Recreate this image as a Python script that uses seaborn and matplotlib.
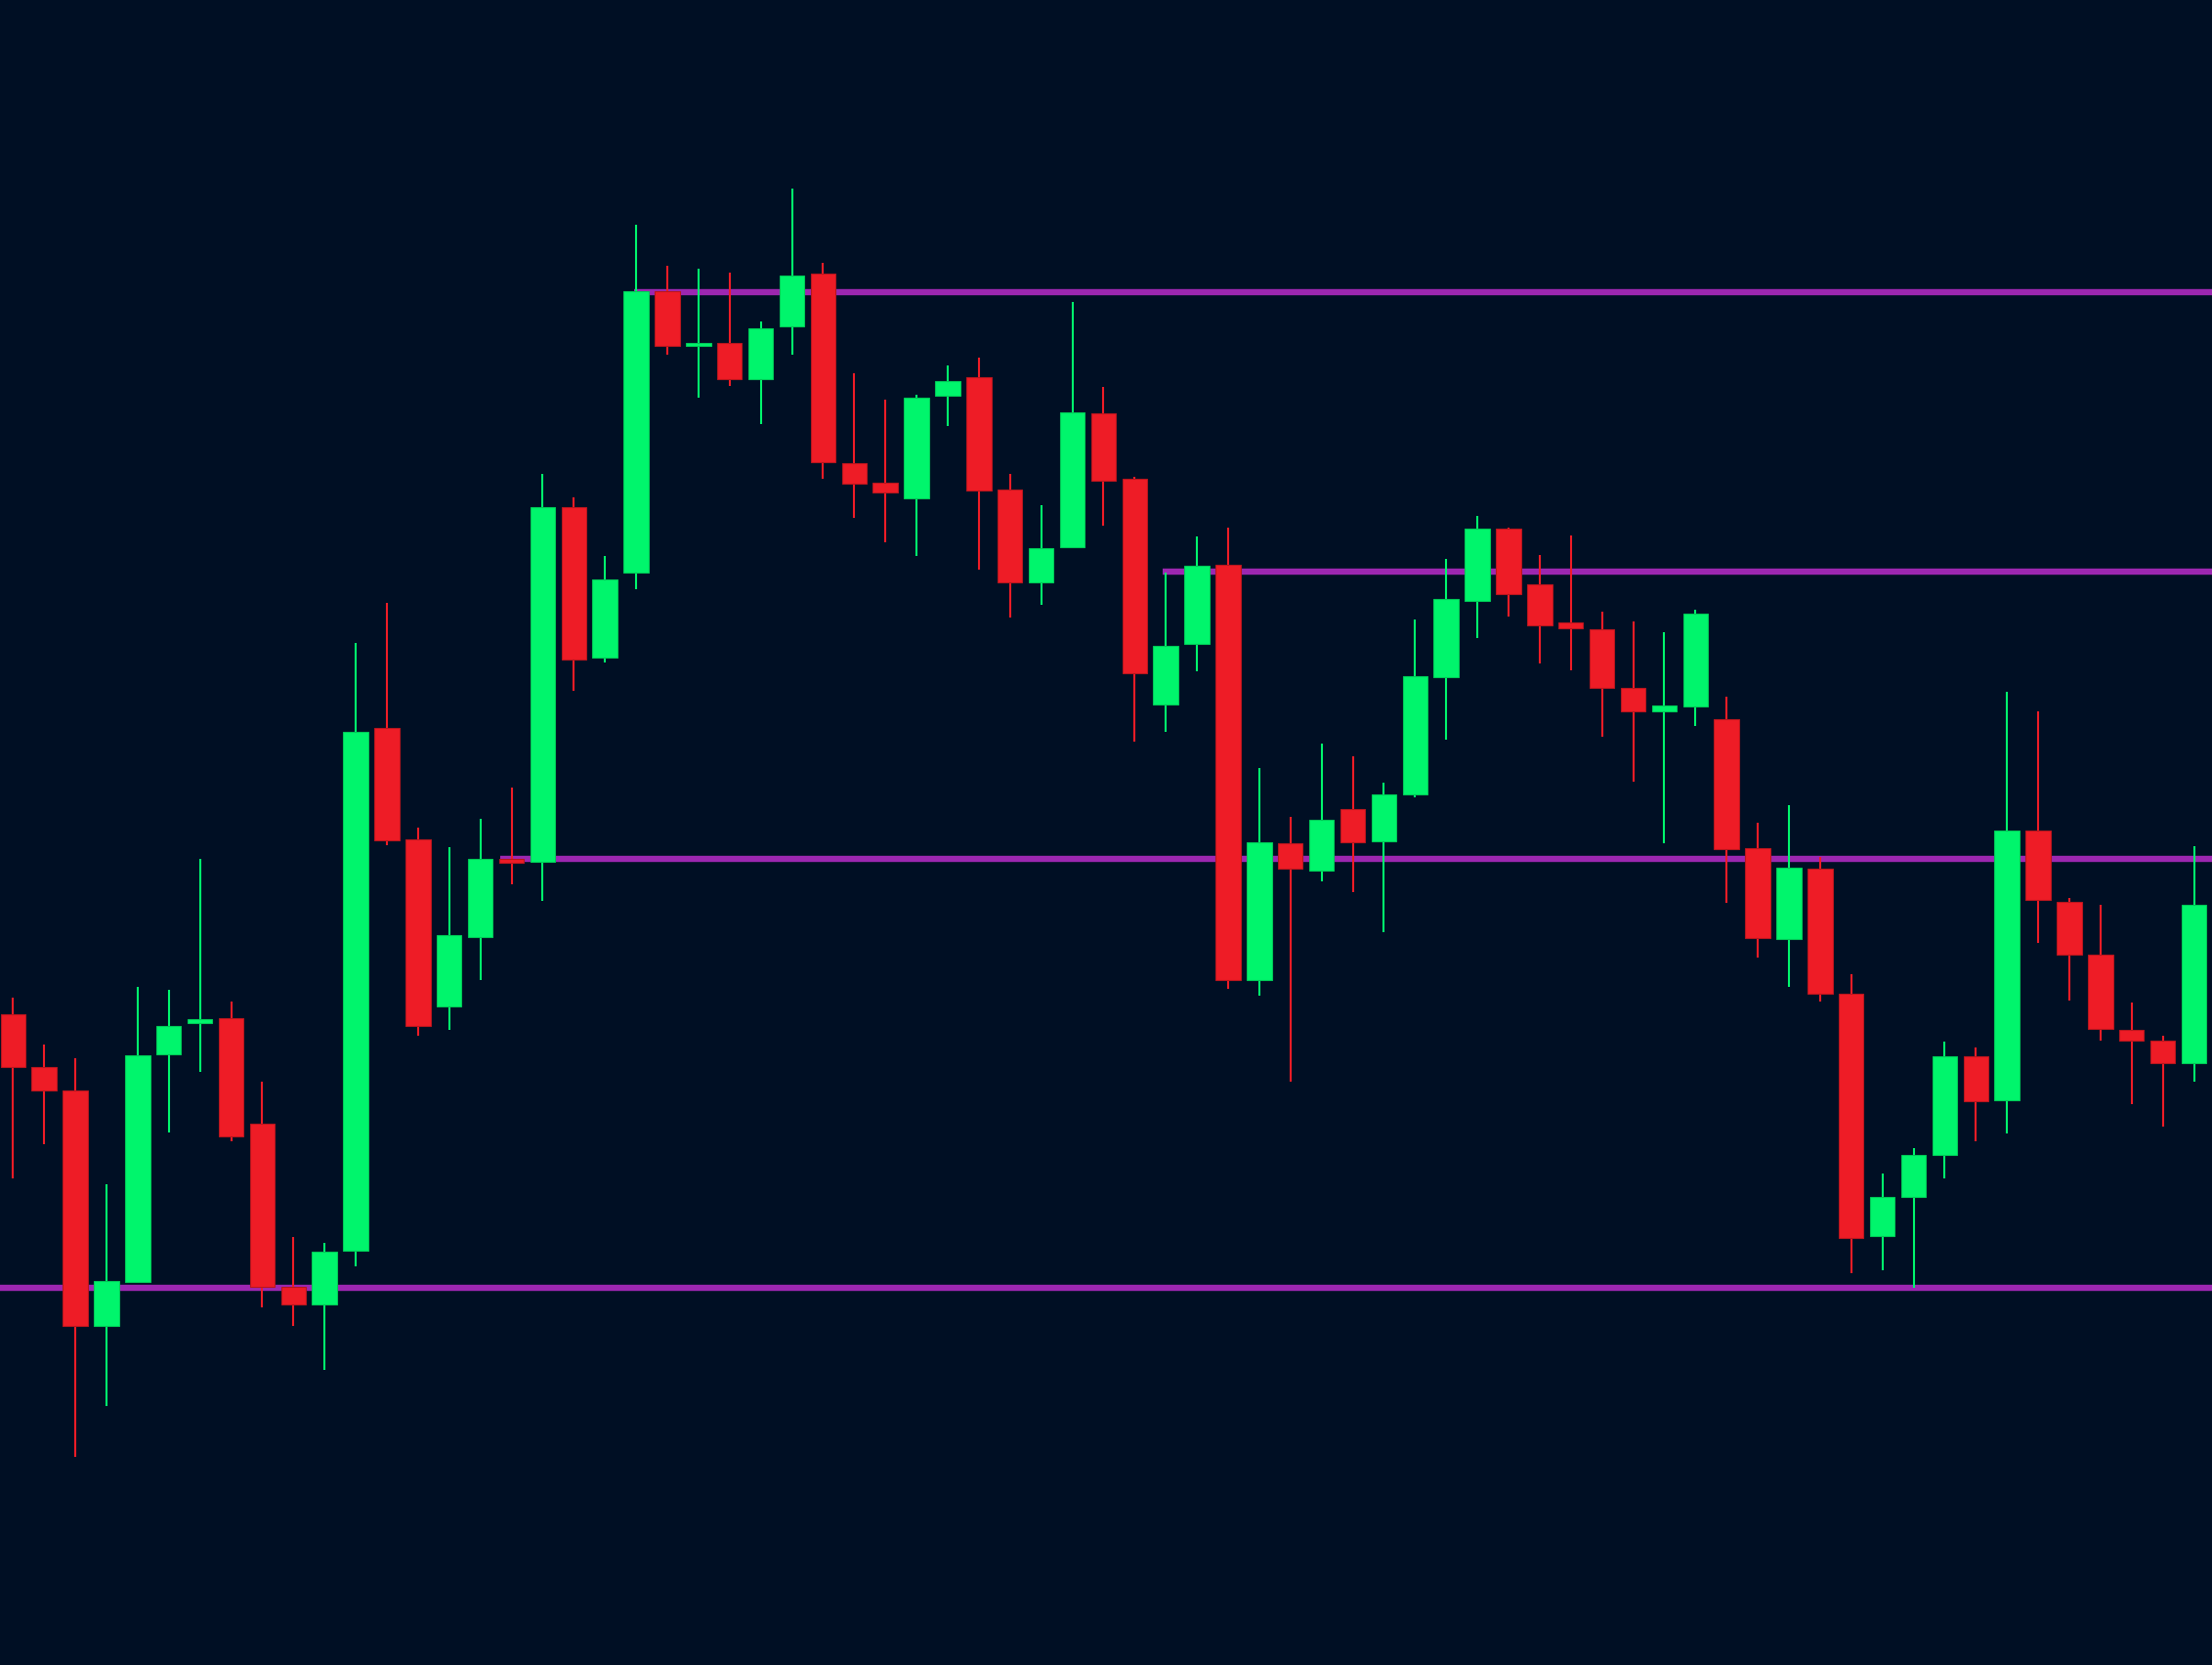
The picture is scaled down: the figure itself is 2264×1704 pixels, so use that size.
import numpy as np
import pandas as pd
import matplotlib
matplotlib.use("Agg")
import matplotlib.pyplot as plt
import seaborn as sns

# ---- data (arbitrary price units) ----
opens = [666.0, 612.1, 588.2, 347.2, 392.5, 625.0, 657.4, 661.7, 554.0, 387.4,
         369.5, 424.1, 959.1, 844.6, 673.7, 744.6, 824.9, 822.4, 1184.7, 1030.9,
         1118.1, 1406.1, 1349.7, 1353.1, 1316.3, 1370.2, 1424.0, 1230.0, 1210.4, 1194.1,
         1299.2, 1318.0, 1202.7, 1107.8, 1143.7, 1281.3, 1213.8, 983.0, 1044.6, 1125.8,
         701.0, 841.2, 813.0, 876.2, 842.9, 890.7, 1011.2, 1089.0, 1163.4, 1106.1,
         1066.8, 1059.9, 1000.1, 976.2, 981.3, 968.5, 836.0, 742.9, 814.7, 687.3,
         439.5, 478.8, 522.4, 623.3, 578.0, 854.0, 781.4, 727.5, 649.7, 638.6,
         615.6]
highs = [683.1, 635.2, 620.7, 492.5, 694.2, 690.8, 824.9, 678.8, 596.8, 437.8,
         431.8, 1046.3, 1087.3, 857.4, 836.9, 866.0, 898.4, 1218.9, 1195.0, 1135.2,
         1473.6, 1431.7, 1429.1, 1424.9, 1375.3, 1511.2, 1435.1, 1322.3, 1295.0, 1300.1,
         1330.0, 1338.5, 1218.9, 1187.3, 1395.0, 1307.8, 1216.3, 1118.1, 1154.8, 1164.2,
         918.1, 868.5, 942.9, 930.0, 902.7, 1070.2, 1131.7, 1176.2, 1164.2, 1136.0,
         1155.7, 1077.9, 1067.6, 1057.4, 1079.6, 990.7, 861.7, 879.6, 827.5, 707.0,
         502.8, 529.2, 637.8, 631.8, 995.8, 976.2, 784.8, 778.0, 677.9, 643.8,
         837.8]
lows = [497.6, 532.7, 213.0, 265.2, 391.0, 544.6, 607.0, 536.1, 366.0, 347.2,
        301.9, 407.9, 838.6, 643.8, 649.7, 701.0, 799.3, 782.2, 996.7, 1025.8,
        1101.0, 1341.1, 1297.5, 1309.5, 1270.2, 1341.1, 1213.8, 1174.5, 1148.8, 1135.2,
        1268.5, 1120.6, 1071.9, 1084.7, 1143.7, 1165.9, 945.4, 954.8, 1017.2, 692.5,
        684.8, 596.8, 801.9, 790.8, 749.7, 888.2, 947.1, 1051.4, 1072.8, 1024.9,
        1018.1, 949.7, 903.6, 841.2, 960.8, 779.6, 724.1, 694.2, 678.8, 401.1,
        403.6, 386.5, 498.5, 536.1, 543.8, 739.5, 680.5, 639.5, 573.7, 551.5,
        596.8]
closes = [612.1, 588.2, 347.2, 393.4, 624.1, 654.0, 660.9, 541.2, 387.4, 368.6,
          423.3, 954.8, 843.7, 654.0, 747.2, 824.9, 821.5, 1184.7, 1029.2, 1111.2,
          1406.1, 1349.7, 1353.1, 1316.3, 1367.8, 1422.3, 1230.9, 1209.5, 1200.1, 1297.5,
          1313.8, 1201.8, 1107.8, 1142.9, 1282.1, 1212.1, 1015.5, 1042.9, 1124.9, 701.0,
          842.0, 815.5, 865.1, 842.0, 890.7, 1012.1, 1090.7, 1163.4, 1095.8, 1064.2,
          1060.8, 1000.1, 976.2, 982.2, 1076.2, 835.2, 743.8, 816.4, 687.3, 436.9,
          478.8, 522.4, 623.3, 577.1, 854.0, 783.1, 726.7, 650.6, 638.6, 615.6,
          778.0]

# support / resistance levels and the candle index where each starts
level_prices = [1405.2, 1118.9, 824.9, 385.6]
level_starts = [19.93, 36.9, 15.63, -1.0]

# ---- style ----
BG = "#000F24"
UP = "#00F56C"
DOWN = "#EE1C26"
LEVEL = "#9C27B0"

sns.set_theme(style="dark", rc={"axes.facecolor": BG, "figure.facecolor": BG})

df = pd.DataFrame({"open": opens, "high": highs, "low": lows, "close": closes})
df["idx"] = np.arange(len(df))
df["up"] = df["close"] >= df["open"]
df["color"] = np.where(df["up"], UP, DOWN)
df["edge"] = np.where(df["up"], "#00C957", "#B8161E")
df["bottom"] = df[["open", "close"]].min(axis=1)
df["height"] = (df["open"] - df["close"]).abs().clip(lower=3.5)

fig = plt.figure(figsize=(22.64, 17.04), dpi=100)
ax = fig.add_axes([0, 0, 1, 1])
ax.set_facecolor(BG)

x_right = 70.58
for lvl, start in zip(level_prices, level_starts):
    ax.hlines(lvl, start, x_right + 1, color=LEVEL, linewidth=4.6, zorder=1)

ax.vlines(df["idx"], df["low"], df["high"], colors=df["color"], linewidth=1.5, zorder=2)
ax.bar(df["idx"], df["height"], bottom=df["bottom"], width=0.8,
       color=df["color"], edgecolor=df["edge"], linewidth=0.8, zorder=3)

ax.set_xlim(-0.417, x_right)
ax.set_ylim(0, 1704)
ax.axis("off")

fig.savefig("out.png", dpi=100, facecolor=BG)
